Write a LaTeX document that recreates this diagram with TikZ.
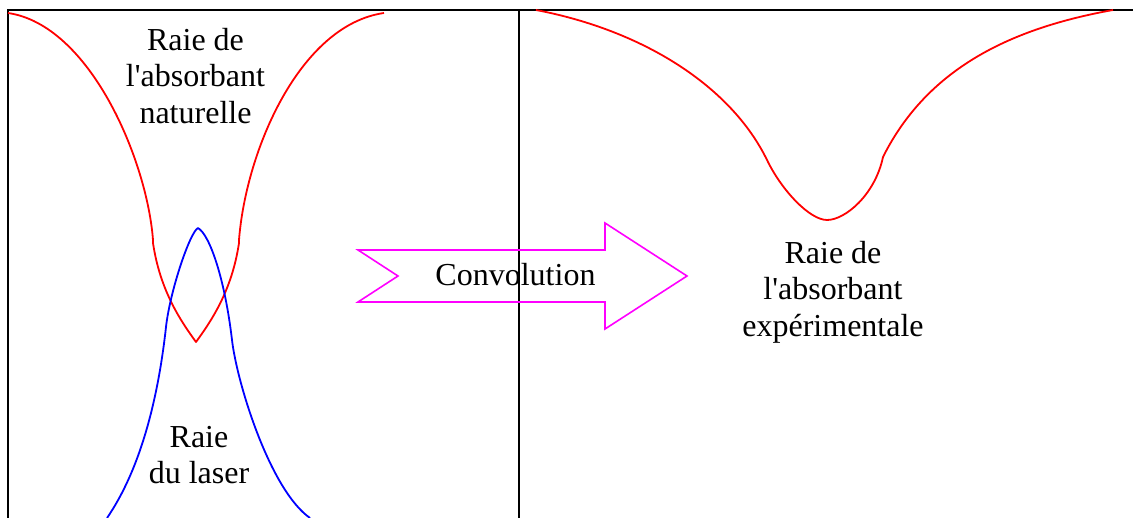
\documentclass[tikz,border=0pt]{standalone}
\usepackage{fontspec}
\setmainfont{Liberation Serif}
\usepackage{xcolor}
\definecolor{convmag}{RGB}{255,0,255}
\definecolor{natred}{RGB}{255,0,0}
\definecolor{laserblue}{RGB}{0,0,255}

\begin{document}
\begin{tikzpicture}[
    x=1pt, y=-1pt,
    frame/.style={draw=black, line width=1.6pt},
    natline/.style={draw=natred, line width=1.8pt, line join=round},
    laserline/.style={draw=laserblue, line width=1.8pt, line join=round},
    convarrow/.style={draw=convmag, line width=1.6pt, line join=miter},
    lbl/.style={inner sep=0pt, align=center, font=\fontsize{32}{36.5}\selectfont},
  ]
  \useasboundingbox (0,0) rectangle (1133,518);

  % Frame
  \draw[frame] (8,518) -- (8,10) -- (1133,10);
  \draw[frame] (519,10) -- (519,518);

  % Left panel: natural line and laser line
  \draw[natline] (8,13) .. controls (90,25) and (147,160) .. (153,240)
    -- (153,243) .. controls (160,290) and (180,320) .. (196,342)
    .. controls (212,320) and (232,290) .. (239,243)
    -- (239,240) .. controls (246,150) and (300,25) .. (384,13);
  \draw[laserline] (107,518) .. controls (140,470) and (158,400) .. (166,327)
    .. controls (170,291) and (190,232) .. (198,228)
    .. controls (210,235) and (225,280) .. (232,340)
    .. controls (237,383) and (270,490) .. (310,518);

  \node[lbl, anchor=north] (natlabel) at (195.5,28)
       {Raie de\\l\textquotesingle absorbant\\naturelle};
  \node[lbl, anchor=north] (laserlabel) at (199,426) {Raie\\du laser};

  % Right panel: experimental line
  \draw[natline] (536,10) .. controls (646,31) and (732,88) .. (767,160)
    .. controls (782,191) and (810,220) .. (827,220)
    .. controls (845,220) and (875,195) .. (883,157)
    .. controls (928,67) and (1013,28) .. (1113,10);
  \node[lbl, anchor=north] (explabel) at (833,241)
       {Raie de\\l\textquotesingle absorbant\\expérimentale};

  % Convolution arrow
  \draw[convarrow] (358,250) -- (605,250) -- (605,223) -- (687,276)
    -- (605,329) -- (605,302) -- (358,302) -- (398,276) -- cycle;
  \node[lbl, anchor=base] (convlabel) at (515.5,286) {Convolution};
\end{tikzpicture}
\end{document}
